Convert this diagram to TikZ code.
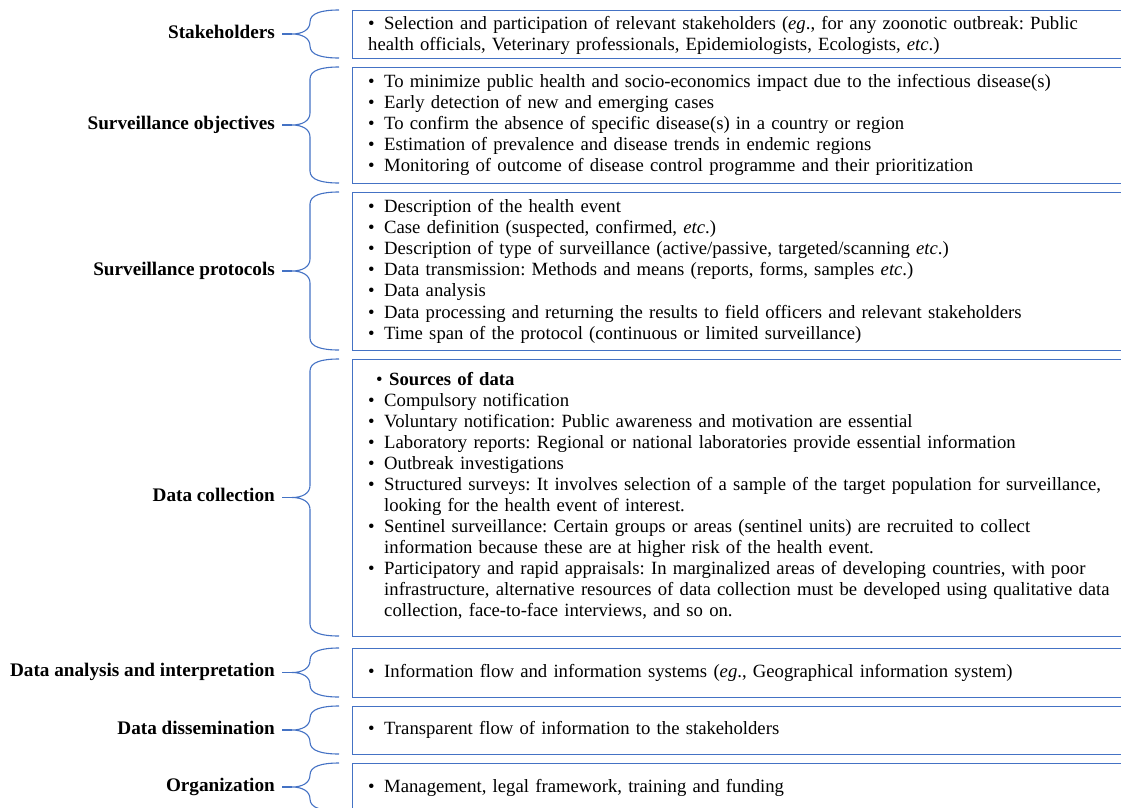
\documentclass[tikz,border=0pt]{standalone}
\usepackage{fontspec}
\setmainfont{Liberation Serif}
\definecolor{obl}{HTML}{4472C4}
\newcommand\bl{\makebox[16pt][l]{•}}
\newcommand\ind{\hspace*{16pt}}
% brace: #1 top, #2 bottom, #3 tip name
\newcommand\pbrace[3]{%
  \pgfmathsetmacro\bm{(#1+#2)/2}%
  \coordinate (#3) at (292,\bm);
  \draw[brc] (339,#1) .. controls (322,#1) and (310,#1+3) .. (310,#1+12)
    -- (310,\bm-12) .. controls (310,\bm-4) and (302,\bm) .. (#3)
    .. controls (302,\bm) and (310,\bm+4) .. (310,\bm+12)
    -- (310,#2-12) .. controls (310,#2-3) and (322,#2) .. (339,#2);
}
\begin{document}
\frenchspacing
\begin{tikzpicture}[x=1pt,y=-1pt,
  box/.style={draw=obl, line width=1.2pt, anchor=north west, inner sep=0pt, minimum width=800pt},
  txt/.style={anchor=base west, inner sep=0pt, text width=820pt, align=left, font=\fontsize{18.7}{21.2}\selectfont\frenchspacing},
  lab/.style={anchor=east, inner sep=0pt, text height=8.5pt, text depth=0pt, font=\fontsize{19.2}{21.2}\selectfont\bfseries},
  brc/.style={draw=obl, line width=1.1pt},
  conn/.style={draw=obl, line width=1.3pt}]
\useasboundingbox (0,0) rectangle (1121,807);
\clip (0,0) rectangle (1121,807);

% boxes
\node[box, minimum height=48pt]  (box1) at (352,10)  {};
\node[box, minimum height=116pt] (box2) at (352,67)  {};
\node[box, minimum height=158pt] (box3) at (352,192) {};
\node[box, minimum height=277pt] (box4) at (352,359) {};
\node[box, minimum height=49pt]  (box5) at (352,648) {};
\node[box, minimum height=48pt]  (box6) at (352,706) {};
\node[box, minimum height=48pt]  (box7) at (352,763) {};

% labels
\node[lab] (lab1) at (275,34)    {Stakeholders};
\node[lab] (lab2) at (275,125)   {Surveillance objectives};
\node[lab] (lab3) at (275,271)   {Surveillance protocols};
\node[lab] (lab4) at (275,497.5) {Data collection};
\node[lab] (lab5) at (275,672.5) {Data analysis and interpretation};
\node[lab] (lab6) at (275,730)   {Data dissemination};
\node[lab] (lab7) at (275,787)   {Organization};

% braces
\pbrace{10}{58}{tip1}
\pbrace{67}{183}{tip2}
\pbrace{192}{350}{tip3}
\pbrace{359}{636}{tip4}
\pbrace{648}{697}{tip5}
\pbrace{706}{754}{tip6}
\pbrace{763}{811}{tip7}
\foreach \i in {1,...,7}{
  \draw[conn] ([xshift=7pt]lab\i.east) -- (tip\i);
}

% texts
\node[txt] (t1) at (368,29) {\bl Selection and participation of relevant stakeholders (\textit{eg}., for any zoonotic outbreak: Public\\
health officials, Veterinary professionals, Epidemiologists, Ecologists, \textit{etc}.)};

\node[txt] (t2) at (368,87) {\bl To minimize public health and socio-economics impact due to the infectious disease(s)\\
\bl Early detection of new and emerging cases\\
\bl To confirm the absence of specific disease(s) in a country or region\\
\bl Estimation of prevalence and disease trends in endemic regions\\
\bl Monitoring of outcome of disease control programme and their prioritization};

\node[txt] (t3) at (368,212) {\bl Description of the health event\\
\bl Case definition (suspected, confirmed, \textit{etc}.)\\
\bl Description of type of surveillance (active/passive, targeted/scanning \textit{etc}.)\\
\bl Data transmission: Methods and means (reports, forms, samples \textit{etc}.)\\
\bl Data analysis\\
\bl Data processing and returning the results to field officers and relevant stakeholders\\
\bl Time span of the protocol (continuous or limited surveillance)};

\node[txt, font=\fontsize{18.7}{21.0}\selectfont\frenchspacing] (t4) at (368,385) {\hspace*{8pt}\makebox[13pt][l]{•}\textbf{Sources of data}\\
\bl Compulsory notification\\
\bl Voluntary notification: Public awareness and motivation are essential\\
\bl Laboratory reports: Regional or national laboratories provide essential information\\
\bl Outbreak investigations\\
\bl Structured surveys: It involves selection of a sample of the target population for surveillance,\\
\ind looking for the health event of interest.\\
\bl Sentinel surveillance: Certain groups or areas (sentinel units) are recruited to collect\\
\ind information because these are at higher risk of the health event.\\
\bl Participatory and rapid appraisals: In marginalized areas of developing countries, with poor\\
\ind infrastructure, alternative resources of data collection must be developed using qualitative data\\
\ind collection, face-to-face interviews, and so on.};

\node[txt] (t5) at (368,677) {\bl Information flow and information systems (\textit{eg}., Geographical information system)};
\node[txt] (t6) at (368,734) {\bl Transparent flow of information to the stakeholders};
\node[txt] (t7) at (368,792) {\bl Management, legal framework, training and funding};
\end{tikzpicture}
\end{document}
